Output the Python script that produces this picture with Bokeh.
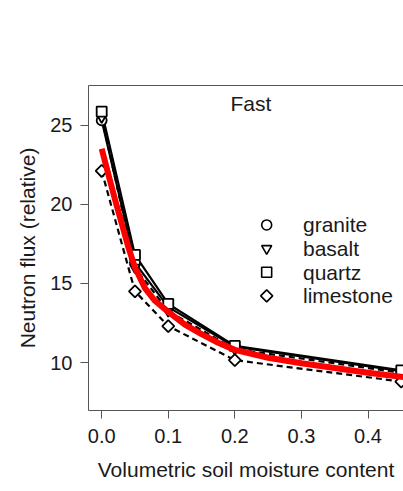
from bokeh.plotting import figure
from bokeh.models import (LinearAxis, FixedTicker, NumeralTickFormatter, Label,
                          Range1d)
from bokeh.core.properties import value
from bokeh.embed import file_html
from bokeh.resources import INLINE
import math

# ---- data ----
moisture = [0.0, 0.05, 0.1, 0.2, 0.45]
granite = [25.3, 16.3, 13.5, 11.0, 9.45]
basalt = [25.5, 16.0, 13.25, 10.85, 9.35]
quartz = [25.85, 16.8, 13.7, 11.05, 9.5]
limestone = [22.1, 14.5, 12.3, 10.15, 8.8]

fit_moisture = [0.0, 0.01, 0.02, 0.03, 0.04, 0.05, 0.065, 0.08, 0.1, 0.125,
                0.15, 0.175, 0.2, 0.25, 0.3, 0.35, 0.4, 0.455]
fit_flux = [23.5, 21.9, 20.3, 18.8, 17.3, 16.0, 14.7, 13.9, 13.2, 12.4,
            11.8, 11.25, 10.8, 10.3, 9.95, 9.65, 9.35, 9.08]

rock_names = ["granite", "basalt", "quartz", "limestone"]
x_ticks = [0.0, 0.1, 0.2, 0.3, 0.4]
y_ticks = [10, 15, 20, 25]
panel_title = "Fast"
x_label = "Volumetric soil moisture content"
y_label = "Neutron flux (relative)"

FONT = "Liberation Sans"
TXT = "#1a1a1a"
BOX = "#555555"

p = figure(width=403, height=491, output_backend="svg", toolbar_location=None,
           x_range=Range1d(-0.0198, 0.4533), y_range=Range1d(6.97, 27.5),
           min_border_left=88, min_border_right=0, min_border_top=85,
           min_border_bottom=81, x_axis_location=None, y_axis_location=None)
p.outline_line_color = None
p.xgrid.visible = False
p.ygrid.visible = False
p.background_fill_color = "white"
p.border_fill_color = "white"


def style_axis(ax):
    ax.axis_line_color = BOX
    ax.axis_line_width = 1
    ax.major_tick_line_color = BOX
    ax.major_tick_out = 8
    ax.major_tick_in = 0
    ax.minor_tick_line_color = None
    ax.major_label_text_font = FONT
    ax.major_label_text_font_size = "20px"
    ax.major_label_text_color = TXT
    ax.axis_label_text_font = FONT
    ax.axis_label_text_font_size = "21px"
    ax.axis_label_text_font_style = "normal"
    ax.axis_label_text_color = TXT


xax = LinearAxis(ticker=FixedTicker(ticks=x_ticks),
                 formatter=NumeralTickFormatter(format="0.0"),
                 axis_label=x_label)
style_axis(xax)
xax.major_label_standoff = 10
xax.axis_label_standoff = 12
p.add_layout(xax, "below")

yax = LinearAxis(ticker=FixedTicker(ticks=y_ticks), axis_label=y_label)
style_axis(yax)
yax.major_label_standoff = 8
yax.axis_label_standoff = 8
p.add_layout(yax, "left")

top = LinearAxis(ticker=FixedTicker(ticks=[]))
top.axis_line_color = BOX
top.major_tick_line_color = None
top.minor_tick_line_color = None
top.major_label_text_font_size = "0px"
p.add_layout(top, "above")

# marker, angle, dash, size for each rock
styles = {
    "granite": ("circle", 0, None, 10),
    "basalt": ("inverted_triangle", 0, "6 4", 10),
    "quartz": ("square", 0, None, 10),
    "limestone": ("square", math.pi / 4, "6 4", 8.5),
}
series = {"granite": granite, "basalt": basalt, "quartz": quartz,
          "limestone": limestone}

for name in rock_names:
    marker, ang, dash, sz = styles[name]
    kw = {"line_dash": dash} if dash else {}
    p.line(moisture, series[name], line_color="black", line_width=2.2, **kw)
for name in rock_names:
    marker, ang, dash, sz = styles[name]
    p.scatter(moisture, series[name], marker=marker, angle=ang, size=sz,
              line_color="black", line_width=1.8, fill_color="white")

p.line(fit_moisture, fit_flux, line_color="#ff0000", line_width=6)

# legend (drawn as symbols + text, no frame)
leg_x_sym = 0.2478
leg_x_txt = 0.3023
leg_y = [18.69, 17.20, 15.70, 14.21]
for name, yy in zip(rock_names, leg_y):
    marker, ang, dash, sz = styles[name]
    p.scatter([leg_x_sym], [yy], marker=marker, angle=ang, size=sz,
              line_color="black", line_width=1.6, fill_color="white")
p.text(x=[leg_x_txt] * len(rock_names), y=leg_y, text=rock_names,
       text_font=value(FONT), text_font_size="21px", text_color=TXT,
       text_align="left", text_baseline="middle")

p.add_layout(Label(x=0.224, y=26.36, text=panel_title, text_align="center",
                   text_baseline="middle", text_font=FONT,
                   text_font_size="21px", text_color=TXT))

open("out.html", "w").write(file_html(p, INLINE))
